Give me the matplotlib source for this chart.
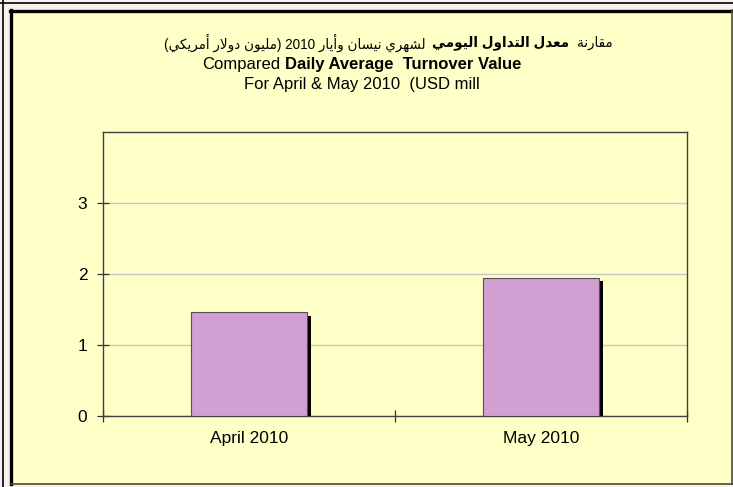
import matplotlib
matplotlib.use('Agg')
import matplotlib.pyplot as plt
import matplotlib.patheffects as pe
from matplotlib.patches import Rectangle
from matplotlib.lines import Line2D

# ---------------- data ----------------
categories = ['April 2010', 'May 2010']
values = [1.46, 1.95]
yticks = [0, 1, 2, 3]

# arabic title: regular / bold / regular (logical order, right to left)
title_ar = ['مقارنة', 'معدل التداول اليومي', 'لشهري نيسان وأيار 2010 (مليون دولار أمريكي)']
title_en = ['Compared', 'Daily Average  Turnover Value']
title_en2 = 'For April & May 2010  (USD mill'

W, H = 733, 487
BG = '#FFFFC8'
BAR = '#D19FD2'

# ---------------- arabic shaping (no reshaper lib available) ----------------
# isolated, final, initial, medial
FORMS = {
    'ا': ('\ufe8d', '\ufe8e', None, None),
    'أ': ('\ufe83', '\ufe84', None, None),
    'ة': ('\ufe93', '\ufe94', None, None),
    'د': ('\ufea9', '\ufeaa', None, None),
    'ر': ('\ufead', '\ufeae', None, None),
    'و': ('\ufeed', '\ufeee', None, None),
    'ت': ('\ufe95', '\ufe96', '\ufe97', '\ufe98'),
    'س': ('\ufeb1', '\ufeb2', '\ufeb3', '\ufeb4'),
    'ش': ('\ufeb5', '\ufeb6', '\ufeb7', '\ufeb8'),
    'ع': ('\ufec9', '\ufeca', '\ufecb', '\ufecc'),
    'ق': ('\ufed5', '\ufed6', '\ufed7', '\ufed8'),
    'ك': ('\ufed9', '\ufeda', '\ufedb', '\ufedc'),
    'ل': ('\ufedd', '\ufede', '\ufedf', '\ufee0'),
    'م': ('\ufee1', '\ufee2', '\ufee3', '\ufee4'),
    'ن': ('\ufee5', '\ufee6', '\ufee7', '\ufee8'),
    'ه': ('\ufee9', '\ufeea', '\ufeeb', '\ufeec'),
    'ي': ('\ufef1', '\ufef2', '\ufef3', '\ufef4'),
}
LAM_ALEF = {'ا': ('\ufefb', '\ufefc'), 'أ': ('\ufef7', '\ufef8')}
MIRROR = {'(': ')', ')': '('}


def shape_word(w):
    out = []
    i = 0
    prev_joins = False
    while i < len(w):
        c = w[i]
        if c not in FORMS:
            out.append(MIRROR.get(c, c))
            prev_joins = False
            i += 1
            continue
        if c == 'ل' and i + 1 < len(w) and w[i + 1] in LAM_ALEF:
            out.append(LAM_ALEF[w[i + 1]][1 if prev_joins else 0])
            prev_joins = False
            i += 2
            continue
        f = FORMS[c]
        can_next = f[2] is not None and i + 1 < len(w) and w[i + 1] in FORMS
        if prev_joins and can_next:
            g = f[3]
        elif prev_joins:
            g = f[1]
        elif can_next:
            g = f[2]
        else:
            g = f[0]
        out.append(g)
        prev_joins = can_next
        i += 1
    return ''.join(reversed(out))


def rtl(text):
    toks = [t if t.isdigit() else shape_word(t) for t in text.split(' ')]
    return ' '.join(reversed(toks))


# ---------------- figure ----------------
fig = plt.figure(figsize=(W / 100, H / 100), dpi=100, facecolor='#F7F0EF')

# outer frame and yellow chart box
fig.add_artist(Rectangle((11 / W, 1 - 484 / H), 721 / W, 474 / H, transform=fig.transFigure,
                         facecolor=BG, edgecolor='none', zorder=0))
fig.add_artist(Line2D([11 / W, 11 / W], [1 - 484 / H, 1 - 10 / H], transform=fig.transFigure,
                      color='black', lw=2.4))
fig.add_artist(Line2D([10 / W, 733 / W], [1 - 11 / H, 1 - 11 / H], transform=fig.transFigure,
                      color='black', lw=2.4))
fig.add_artist(Line2D([11 / W, 732 / W], [1 - 484 / H, 1 - 484 / H], transform=fig.transFigure,
                      color='#4A4A30', lw=1.2))
fig.add_artist(Line2D([731.5 / W, 731.5 / W], [1 - 484 / H, 1 - 10 / H], transform=fig.transFigure,
                      color='#4A4A30', lw=1.2))
fig.add_artist(Line2D([0, 1], [1 - 3 / H, 1 - 3 / H], transform=fig.transFigure,
                      color='black', lw=1.2))
fig.add_artist(Line2D([3 / W, 3 / W], [0, 1], transform=fig.transFigure,
                      color='black', lw=1.2))

# plot area
left, right, top, bottom = 103, 687, 132, 416
ax = fig.add_axes([left / W, 1 - bottom / H, (right - left) / W, (bottom - top) / H])
ax.set_facecolor('none')

x = list(range(len(categories)))
ax.bar(x, values, width=0.4, color=BAR, edgecolor='#505050', linewidth=0.8, zorder=3,
       path_effects=[pe.SimplePatchShadow(offset=(2.4, -2.4), shadow_rgbFace='black', alpha=1.0),
                     pe.Normal()])

ax.set_xlim(-0.5, len(categories) - 0.5)
ax.set_ylim(0, 4)

ax.set_yticks(yticks)
ax.set_yticklabels([str(v) for v in yticks])
ax.yaxis.grid(True, color='#C8C8C8', linewidth=1.0, zorder=1)
ax.set_axisbelow(True)

ax.set_xticks([i - 0.5 for i in range(len(categories) + 1)])
ax.set_xticklabels([])
ax.set_xticks(x, minor=True)
ax.set_xticklabels(categories, minor=True)
ax.tick_params(axis='x', which='minor', length=0, pad=11, labelsize=12.5)
ax.tick_params(axis='x', which='major', direction='inout', length=8.5, width=0.9, color='#303030')
ax.tick_params(axis='y', direction='inout', length=8.5, width=0.9, color='#303030', pad=7,
               labelsize=12.5)
for lab in ax.get_xticklabels(minor=True) + ax.get_yticklabels():
    lab.set_family('Liberation Sans')

for s in ax.spines.values():
    s.set_color('#404040')
    s.set_linewidth(1.0)

# ---------------- titles (mixed weights laid out by measured widths) ----------------
renderer = fig.canvas.get_renderer()


def place_line(pieces, cx, cy, gap, fs, family):
    arts = [fig.text(0, 0, s, fontsize=fs, fontweight=wt, family=family, va='center', ha='left')
            for s, wt in pieces]
    widths = [a.get_window_extent(renderer).width for a in arts]
    total = sum(widths) + gap * (len(arts) - 1)
    xx = cx - total / 2
    for a, w in zip(arts, widths):
        a.set_position((xx / W, 1 - cy / H))
        xx += w + gap
    return arts, total


ar_family = ['Liberation Sans', 'DejaVu Sans']
ar_pieces = [(rtl(title_ar[2]), 'normal'), (rtl(title_ar[1]), 'bold'), (rtl(title_ar[0]), 'normal')]
arts, total = place_line(ar_pieces, 388, 43, 7, 11, ar_family)
# fit the arabic line to the width seen on the reference
fs_ar = 11 * 445 / total
for a in arts:
    a.remove()
place_line(ar_pieces, 388, 43, 7, fs_ar, ar_family)

place_line([(title_en[0], 'normal'), (title_en[1], 'bold')], 362, 64, 4.5, 12, 'Liberation Sans')
place_line([(title_en2, 'normal')], 362, 85, 0, 12, 'Liberation Sans')

fig.savefig('out.png', dpi=100, facecolor=fig.get_facecolor())
